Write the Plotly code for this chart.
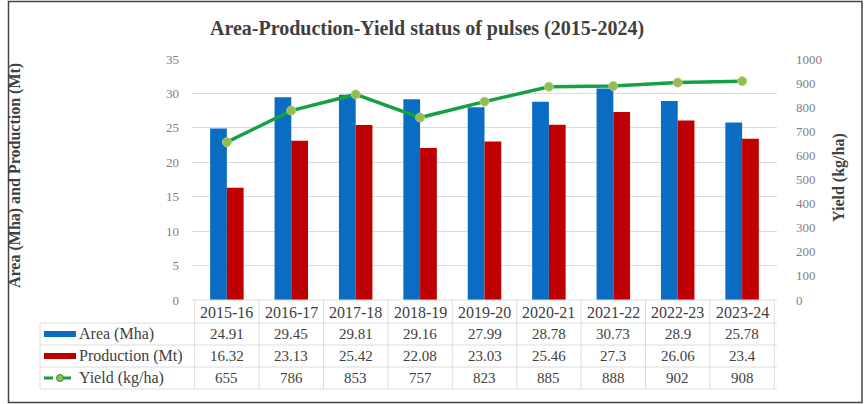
import plotly.graph_objects as go

years = ["2015-16", "2016-17", "2017-18", "2018-19", "2019-20",
         "2020-21", "2021-22", "2022-23", "2023-24"]
area_mha = [24.91, 29.45, 29.81, 29.16, 27.99, 28.78, 30.73, 28.9, 25.78]
production_mt = [16.32, 23.13, 25.42, 22.08, 23.03, 25.46, 27.3, 26.06, 23.4]
yield_kgha = [655, 786, 853, 757, 823, 885, 888, 902, 908]
row_labels = ["Area (Mha)", "Production (Mt)", "Yield (kg/ha)"]

W, H = 865, 404
L, R, T, B = 192, 88, 59, 104
PW, PH = W - L - R, H - T - B

BLUE = "#0b6cc4"
RED = "#c00000"
GREEN = "#16a044"
MARKER = "#92bd52"
GRID = "#dcdcdc"
TXT = "#404040"
SERIF = "Liberation Serif, DejaVu Serif, serif"


def px_x(px):
    return (px - L) / PW


def px_y(py):
    return (H - B - py) / PH


def note(text, x, y, xref="paper", size=13, xanchor="center", **kw):
    return dict(x=x, xref=xref, y=y, yref="paper", text=text, showarrow=False,
                xanchor=xanchor, yanchor="middle",
                font=dict(family=SERIF, size=size, color=TXT), **kw)


fig = go.Figure()
fig.add_trace(go.Bar(x=years, y=area_mha, name=row_labels[0],
                     marker=dict(color=BLUE, line=dict(width=0))))
fig.add_trace(go.Bar(x=years, y=production_mt, name=row_labels[1],
                     marker=dict(color=RED, line=dict(width=0))))
fig.add_trace(go.Scatter(x=years, y=yield_kgha, name=row_labels[2], yaxis="y2",
                         mode="lines+markers",
                         line=dict(color=GREEN, width=3.5),
                         marker=dict(size=9, color=MARKER,
                                     line=dict(color="#b0d27a", width=1))))

shapes = []
annotations = []

# data table beneath the plot
row_tops = [300, 323, 345, 367, 389]
table_left = 40
for i, yp in enumerate(row_tops):
    x0 = L if i == 0 else table_left
    shapes.append(dict(type="line", xref="paper", yref="paper",
                       x0=px_x(x0), x1=1, y0=px_y(yp), y1=px_y(yp),
                       line=dict(color=GRID, width=1)))
for k in range(len(years) + 1):
    shapes.append(dict(type="line", xref="x", yref="paper",
                       x0=k - 0.5, x1=k - 0.5,
                       y0=px_y(row_tops[0]), y1=px_y(row_tops[-1]),
                       line=dict(color=GRID, width=1)))
shapes.append(dict(type="line", xref="paper", yref="paper",
                   x0=px_x(table_left), x1=px_x(table_left),
                   y0=px_y(row_tops[1]), y1=px_y(row_tops[-1]),
                   line=dict(color=GRID, width=1)))

for yr in years:
    annotations.append(note(yr, yr, px_y(312), xref="x", size=16))

rows = [area_mha, production_mt, yield_kgha]
row_centers = [334, 356, 378]
for vals, yc in zip(rows, row_centers):
    for yr, v in zip(years, vals):
        annotations.append(note(f"{v:g}", yr, px_y(yc), xref="x", size=15))

for lab, yc in zip(row_labels, row_centers):
    annotations.append(note(lab, px_x(77), px_y(yc), xanchor="left", size=16))

# legend keys inside the table
for col, yc in zip([BLUE, RED], row_centers[:2]):
    shapes.append(dict(type="rect", xref="paper", yref="paper",
                       x0=px_x(44), x1=px_x(76), y0=px_y(yc + 3), y1=px_y(yc - 3),
                       fillcolor=col, line=dict(width=0)))
yc = row_centers[2]
shapes.append(dict(type="line", xref="paper", yref="paper",
                   x0=px_x(44), x1=px_x(76), y0=px_y(yc), y1=px_y(yc),
                   line=dict(color=GREEN, width=3, dash="dash")))
shapes.append(dict(type="circle", xref="paper", yref="paper",
                   x0=px_x(56.5), x1=px_x(63.5), y0=px_y(yc + 3.5), y1=px_y(yc - 3.5),
                   fillcolor=MARKER, line=dict(color=GREEN, width=1)))

# outer frame
shapes.append(dict(type="rect", xref="paper", yref="paper",
                   x0=px_x(8.5), x1=px_x(862), y0=px_y(402.5), y1=px_y(1.5),
                   line=dict(color="#444444", width=1.5), layer="below"))

annotations.append(note("<b>Area-Production-Yield status of pulses (2015-2024)</b>",
                        px_x(427), px_y(28), size=20))
annotations.append(note("<b>Area (Mha) and Production (Mt)</b>",
                        px_x(15), px_y(176), size=16, textangle=-90))
annotations.append(note("<b>Yield (kg/ha)</b>",
                        px_x(839), px_y(178), size=16, textangle=-90))

fig.update_layout(
    width=W, height=H,
    margin=dict(l=L, r=R, t=T, b=B, pad=0),
    paper_bgcolor="white", plot_bgcolor="white",
    barmode="group", bargap=0.48, bargroupgap=0,
    showlegend=False,
    xaxis=dict(type="category", showticklabels=False, showgrid=False,
               zeroline=False, showline=False, ticks=""),
    yaxis=dict(range=[0, 35], dtick=5, showgrid=True, gridcolor=GRID,
               zeroline=False, showline=False, ticks="",
               ticklabelstandoff=12,
               tickfont=dict(family=SERIF, size=13, color="#7f7f7f")),
    yaxis2=dict(range=[0, 1000], dtick=100, overlaying="y", side="right",
                showgrid=False, zeroline=False, showline=False, ticks="",
                ticklabelstandoff=18,
                tickfont=dict(family=SERIF, size=13, color="#7f7f7f")),
    shapes=shapes,
    annotations=annotations,
)

fig.write_html("out.html")
